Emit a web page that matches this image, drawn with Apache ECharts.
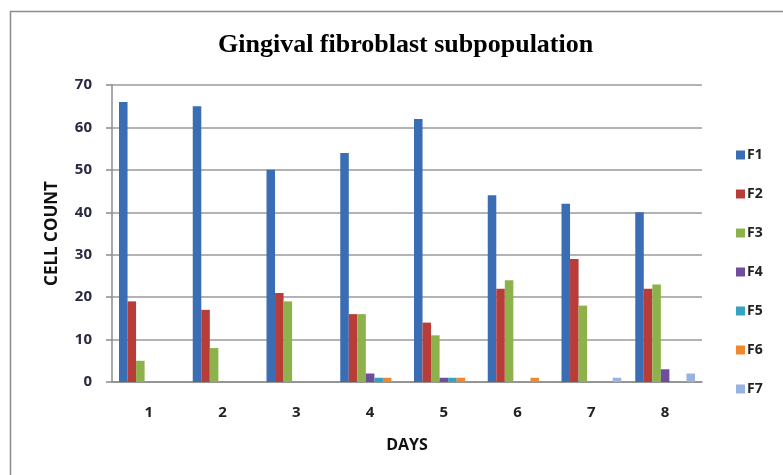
<!DOCTYPE html>
<html>
<head>
<meta charset="utf-8">
<script src="https://cdn.jsdelivr.net/npm/echarts@6/dist/echarts.min.js"></script>
<style>
html,body{margin:0;padding:0;background:#fff;}
#c{width:783px;height:475px;}
</style>
</head>
<body>
<div id="c"></div>
<script>
var days = ['1','2','3','4','5','6','7','8'];
var seriesNames = ['F1','F2','F3','F4','F5','F6','F7'];
var F1 = [66, 65, 50, 54, 62, 44, 42, 40];
var F2 = [19, 17, 21, 16, 14, 22, 29, 22];
var F3 = [5, 8, 19, 16, 11, 24, 18, 23];
var F4 = [0, 0, 0, 2, 1, 0, 0, 3];
var F5 = [0, 0, 0, 1, 1, 0, 0, 0];
var F6 = [0, 0, 0, 1, 1, 1, 0, 0];
var F7 = [0, 0, 0, 0, 0, 0, 1, 2];
var yTicks = [0, 10, 20, 30, 40, 50, 60, 70];

var values = [F1, F2, F3, F4, F5, F6, F7];
var colors = ['#3a6db3', '#b83d39', '#8db24c', '#6e4e9c', '#35a3c0', '#f0882e', '#98b3e0'];

var chart = echarts.init(document.getElementById('c'));
var labelFont = 'Open Sans';
var series = seriesNames.map(function (n, i) {
  return {
    name: n,
    type: 'bar',
    data: values[i],
    barGap: '0%',
    barCategoryGap: '19%',
    itemStyle: { color: colors[i] }
  };
});

chart.setOption({
  animation: false,
  backgroundColor: '#fff',
  color: colors,
  graphic: [{
    type: 'rect',
    shape: { x: 10.5, y: 11.5, width: 800, height: 500 },
    style: { fill: 'none', stroke: '#8c8c8c', lineWidth: 1.5 },
    silent: true,
    z: -10
  }],
  title: {
    text: 'Gingival fibroblast subpopulation',
    left: 218,
    top: 32,
    padding: 0,
    textStyle: { fontFamily: 'Liberation Serif', fontWeight: 'bold', fontSize: 26, color: '#000' }
  },
  legend: {
    orient: 'vertical',
    left: 736,
    top: 145,
    padding: 0,
    itemGap: 19,
    itemWidth: 9,
    itemHeight: 9,
    icon: 'rect',
    data: seriesNames,
    textStyle: { fontFamily: labelFont, fontWeight: 'bold', fontSize: 14, lineHeight: 20, color: '#222', padding: [0, 0, 0, -3] }
  },
  grid: { left: 112, right: 81, top: 85, bottom: 93, containLabel: false },
  xAxis: {
    type: 'category',
    data: days,
    name: 'DAYS',
    nameLocation: 'middle',
    nameGap: 55,
    nameTextStyle: { fontFamily: labelFont, fontWeight: 'bold', fontSize: 16, color: '#111' },
    axisLine: { lineStyle: { color: '#8c8c8c', width: 1.5 } },
    axisTick: { show: false },
    axisLabel: { margin: 23, fontFamily: labelFont, fontWeight: 'bold', fontSize: 15, color: '#222' }
  },
  yAxis: {
    type: 'value',
    min: 0,
    max: 70,
    interval: 10,
    name: 'CELL COUNT',
    nameLocation: 'middle',
    nameGap: 51,
    nameRotate: 90,
    nameTextStyle: { fontFamily: labelFont, fontWeight: 'bold', fontSize: 17, color: '#111' },
    axisLine: { show: true, lineStyle: { color: '#8c8c8c', width: 1.5 } },
    axisTick: { show: true, length: 6, lineStyle: { color: '#8c8c8c', width: 1.5 } },
    splitLine: { lineStyle: { color: '#9a9a9a', width: 1.5 } },
    axisLabel: {
      margin: 20, fontFamily: labelFont, fontWeight: 'bold', fontSize: 15, color: '#2a2a40',
      formatter: function (v) { return yTicks.indexOf(v) >= 0 ? String(v) : ''; }
    }
  },
  series: series
});
</script>
</body>
</html>
